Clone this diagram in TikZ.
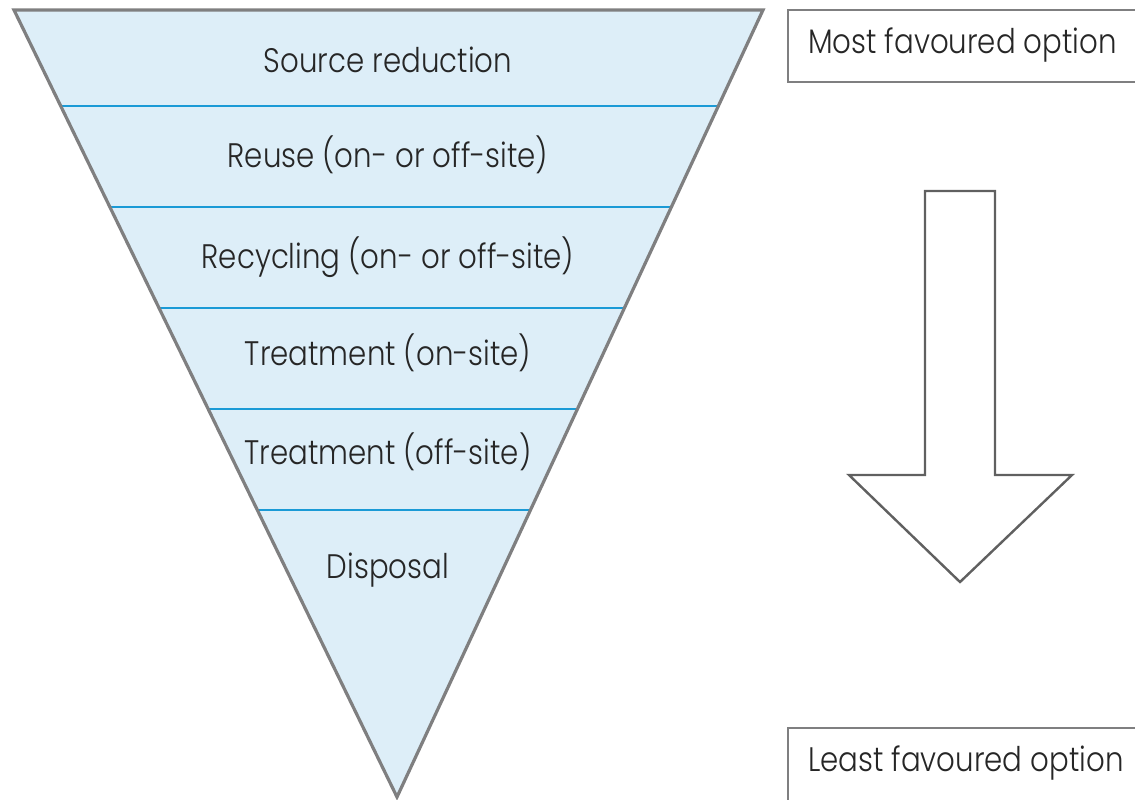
\documentclass[tikz,border=0pt]{standalone}
\usepackage{fontspec}
\setmainfont{Poppins}[UprightFont=* Light, FakeStretch=0.86]
\usetikzlibrary{calc}
\definecolor{tierfill}{HTML}{DDEEF8}
\definecolor{tierline}{HTML}{1A9AD6}
\definecolor{edgegray}{HTML}{7F7F80}
\definecolor{arrowgray}{HTML}{606060}
\tikzset{
  tier/.style={font=\fontsize{17}{20}\selectfont, text=black!85},
  optbox/.style={draw=edgegray, line width=1.2pt},
  opttext/.style={font=\fontsize{17}{20}\selectfont, text=black!85, anchor=west}
}

\begin{document}
\begin{tikzpicture}[x=0.5pt, y=-0.5pt]
  \clip (0,0) rectangle (1135,799);
  % Inverted triangle corners
  \coordinate (tl) at (14,10);
  \coordinate (tr) at (763,10);
  \coordinate (apex) at (397,797);
  \fill[tierfill] (tl) -- (tr) -- (apex) -- cycle;
  % Tier dividers
  \foreach \y in {106,207,308,409,510}{
    \pgfmathsetmacro{\t}{(\y-10)/787}
    \draw[tierline, line width=1pt] ($(tl)!\t!(apex)$) -- ($(tr)!\t!(apex)$);
  }
  \draw[edgegray, line width=1.6pt, line join=miter] (tl) -- (tr) -- (apex) -- cycle;
  % Tier labels
  \node[tier] (source) at (388,60) {Source reduction};
  \node[tier] (reuse) at (388,155) {Reuse (on- or off-site)};
  \node[tier] (recycle) at (388,257) {Recycling (on- or off-site)};
  \node[tier] (onsite) at (388,353) {Treatment (on-site)};
  \node[tier] (offsite) at (388,452) {Treatment (off-site)};
  \node[tier] (disposal) at (388,570) {Disposal};
  % Option boxes
  \draw[optbox] (1140,10) -- (788,10) -- (788,82) -- (1140,82);
  \draw[optbox] (1140,728) -- (788,728) -- (788,805);
  \node[opttext] (most) at (801,45) {Most favoured option};
  \node[opttext] (least) at (801,763) {Least favoured option};
  % Down arrow
  \draw[arrowgray, line width=1.2pt, line join=miter]
    (925,191) -- (995,191) -- (995,475) -- (1072,475) -- (960,582)
    -- (849,475) -- (925,475) -- cycle;
\end{tikzpicture}
\end{document}
